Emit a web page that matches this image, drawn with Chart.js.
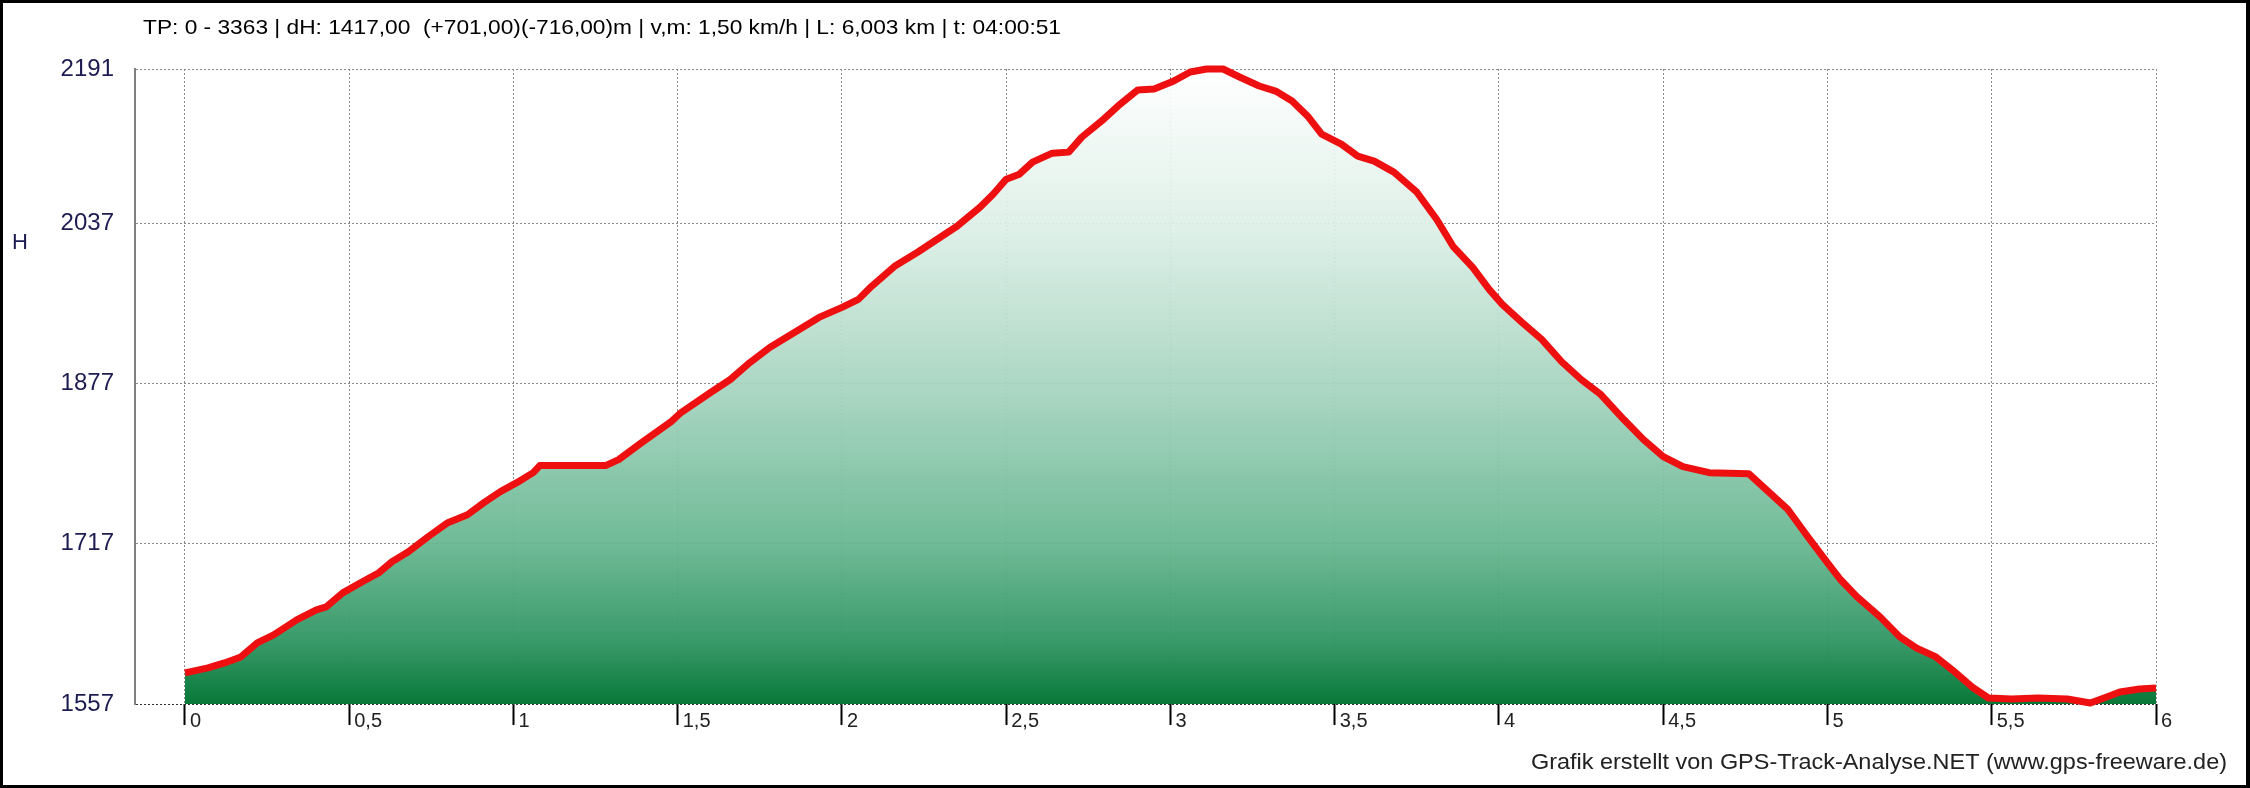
<!DOCTYPE html>
<html>
<head>
<meta charset="utf-8">
<script src="https://cdn.jsdelivr.net/npm/chart.js@4/dist/chart.umd.min.js"></script>
<style>
  html, body { margin: 0; padding: 0; background: #fff; }
  #wrap { width: 2250px; height: 788px; box-sizing: border-box; border: 3px solid #000; border-right-width: 4px; position: relative; background: #fff; }
  #box { width: 2243px; height: 782px; position: relative; }
</style>
</head>
<body>
<div id="wrap"><div id="box"><canvas id="profileChart"></canvas></div></div>
<script>
// Höhenprofil: Distanz (km) und Höhe (m)
const distKm = [
  0.00, 0.07, 0.12, 0.17, 0.22, 0.27, 0.34, 0.40, 0.43, 0.48,
  0.54, 0.59, 0.63, 0.68, 0.74, 0.80, 0.86, 0.91, 0.96, 1.01,
  1.06, 1.08, 1.28, 1.32, 1.39, 1.48, 1.51, 1.60, 1.66, 1.72,
  1.78, 1.86, 1.93, 2.00, 2.05, 2.09, 2.16, 2.23, 2.29, 2.35,
  2.42, 2.46, 2.50, 2.54, 2.58, 2.64, 2.69, 2.73, 2.79, 2.84,
  2.90, 2.95, 3.01, 3.06, 3.11, 3.16, 3.21, 3.27, 3.32, 3.37,
  3.42, 3.46, 3.52, 3.57, 3.62, 3.68, 3.75, 3.81, 3.86, 3.92,
  3.97, 4.01, 4.07, 4.13, 4.19, 4.25, 4.31, 4.38, 4.44, 4.50,
  4.56, 4.64, 4.76, 4.82, 4.88, 4.94, 5.00, 5.04, 5.09, 5.16,
  5.22, 5.27, 5.33, 5.38, 5.44, 5.49, 5.56, 5.64, 5.73, 5.80,
  5.85, 5.89, 5.95, 6.00
];
const elevM = [
  1588, 1593, 1598, 1604, 1618, 1626, 1641, 1651, 1654, 1668,
  1679, 1688, 1699, 1709, 1724, 1738, 1746, 1758, 1769, 1778,
  1788, 1795, 1795, 1801, 1818, 1839, 1848, 1868, 1881, 1898,
  1913, 1929, 1943, 1953, 1961, 1974, 1994, 2008, 2021, 2034,
  2053, 2066, 2081, 2086, 2098, 2107, 2108, 2123, 2139, 2154,
  2170, 2171, 2179, 2188, 2191, 2191, 2183, 2174, 2169, 2159,
  2143, 2126, 2116, 2104, 2099, 2088, 2068, 2041, 2014, 1993,
  1971, 1956, 1938, 1921, 1899, 1881, 1866, 1841, 1821, 1804,
  1794, 1788, 1787, 1769, 1751, 1724, 1698, 1681, 1664, 1644,
  1624, 1613, 1604, 1591, 1574, 1563, 1562, 1563, 1562, 1558,
  1564, 1569, 1572, 1573
];
const yTickValues = [1557, 1717, 1877, 2037, 2191];
const xTickValues = [0, 0.5, 1, 1.5, 2, 2.5, 3, 3.5, 4, 4.5, 5, 5.5, 6];

const titleText = 'TP: 0 - 3363 | dH: 1417,00  (+701,00)(-716,00)m | v,m: 1,50 km/h | L: 6,003 km | t: 04:00:51';
const footerText = 'Grafik erstellt von GPS-Track-Analyse.NET (www.gps-freeware.de)';
const yAxisTitle = 'H';

const fontFam = '"Liberation Sans", Arial, sans-serif';

// Text auf eine feste Breite stauchen/strecken (schmale Schrift im Original)
function fitText(ctx, text, x, y, width, font, color) {
    ctx.save();
    ctx.font = font;
    ctx.fillStyle = color;
    ctx.textAlign = 'left';
    ctx.textBaseline = 'middle';
    const w = ctx.measureText(text).width;
    ctx.translate(x, y);
    ctx.scale(width / w, 1);
    ctx.fillText(text, 0, 0);
    ctx.restore();
}

const textPlugin = {
    id: 'profileTexts',
    afterDraw(chart) {
        const ctx = chart.ctx;
        fitText(ctx, titleText, 140, 25, 918, '21px ' + fontFam, '#000');
        fitText(ctx, footerText, 1528, 760, 696, '22px ' + fontFam, '#222');
        ctx.save();
        ctx.font = '22px ' + fontFam;
        ctx.fillStyle = '#1c1c50';
        ctx.textAlign = 'center';
        ctx.textBaseline = 'middle';
        ctx.fillText(yAxisTitle, 17, 240);
        ctx.restore();
    }
};

function fillGradient(context) {
    const { ctx, chartArea } = context.chart;
    if (!chartArea) return 'rgba(0,0,0,0)';
    const g = ctx.createLinearGradient(0, chartArea.top, 0, chartArea.bottom);
    g.addColorStop(0, 'rgba(255,255,255,0.92)');
    g.addColorStop(0.25, 'rgba(220,239,230,0.92)');
    g.addColorStop(0.5, 'rgba(166,212,192,0.93)');
    g.addColorStop(0.75, 'rgba(102,182,144,0.94)');
    g.addColorStop(0.9, 'rgba(50,150,100,0.96)');
    g.addColorStop(1, 'rgba(8,120,56,1)');
    return g;
}

const ctx = document.getElementById('profileChart').getContext('2d');
new Chart(ctx, {
    type: 'line',
    data: {
        datasets: [{
            data: distKm.map((d, i) => ({ x: d, y: elevM[i] })),
            borderColor: '#ee1010',
            borderWidth: 7,
            borderJoinStyle: 'round',
            pointRadius: 0,
            tension: 0,
            fill: 'start',
            backgroundColor: fillGradient,
            clip: 8
        }]
    },
    options: {
        responsive: true,
        maintainAspectRatio: false,
        animation: false,
        layout: { padding: { top: 66, right: 90, left: 0, bottom: 0 } },
        plugins: {
            legend: { display: false },
            tooltip: { enabled: false },
            title: { display: false }
        },
        scales: {
            x: {
                type: 'linear',
                min: -0.1522,
                max: 6,
                afterBuildTicks(scale) { scale.ticks = xTickValues.map(v => ({ value: v })); },
                afterFit(scale) { scale.height = 81; },
                grid: {
                    color: '#8a8a8a',
                    lineWidth: 1,
                    drawTicks: true,
                    tickLength: 21,
                    tickColor: '#000',
                    tickWidth: 2,
                    tickBorderDash: []
                },
                border: { display: false, dash: [2, 2] },
                ticks: {
                    autoSkip: false,
                    maxRotation: 0,
                    align: 'start',
                    labelOffset: 5,
                    padding: -16,
                    color: '#222',
                    font: { family: fontFam, size: 20 },
                    callback: v => String(v).replace('.', ',')
                }
            },
            y: {
                min: 1557,
                max: 2191,
                afterBuildTicks(scale) { scale.ticks = yTickValues.map(v => ({ value: v })); },
                afterFit(scale) { scale.width = 132; },
                grid: {
                    color: ctx => (ctx.tick && ctx.tick.value === 1557) ? '#333' : '#8a8a8a',
                    lineWidth: 1,
                    drawTicks: false
                },
                border: { display: true, color: '#808080', width: 2, dash: [2, 2] },
                ticks: {
                    padding: 21,
                    color: '#1c1c50',
                    font: { family: fontFam, size: 24 },
                    callback: v => String(v)
                }
            }
        }
    },
    plugins: [textPlugin]
});
</script>
</body>
</html>
